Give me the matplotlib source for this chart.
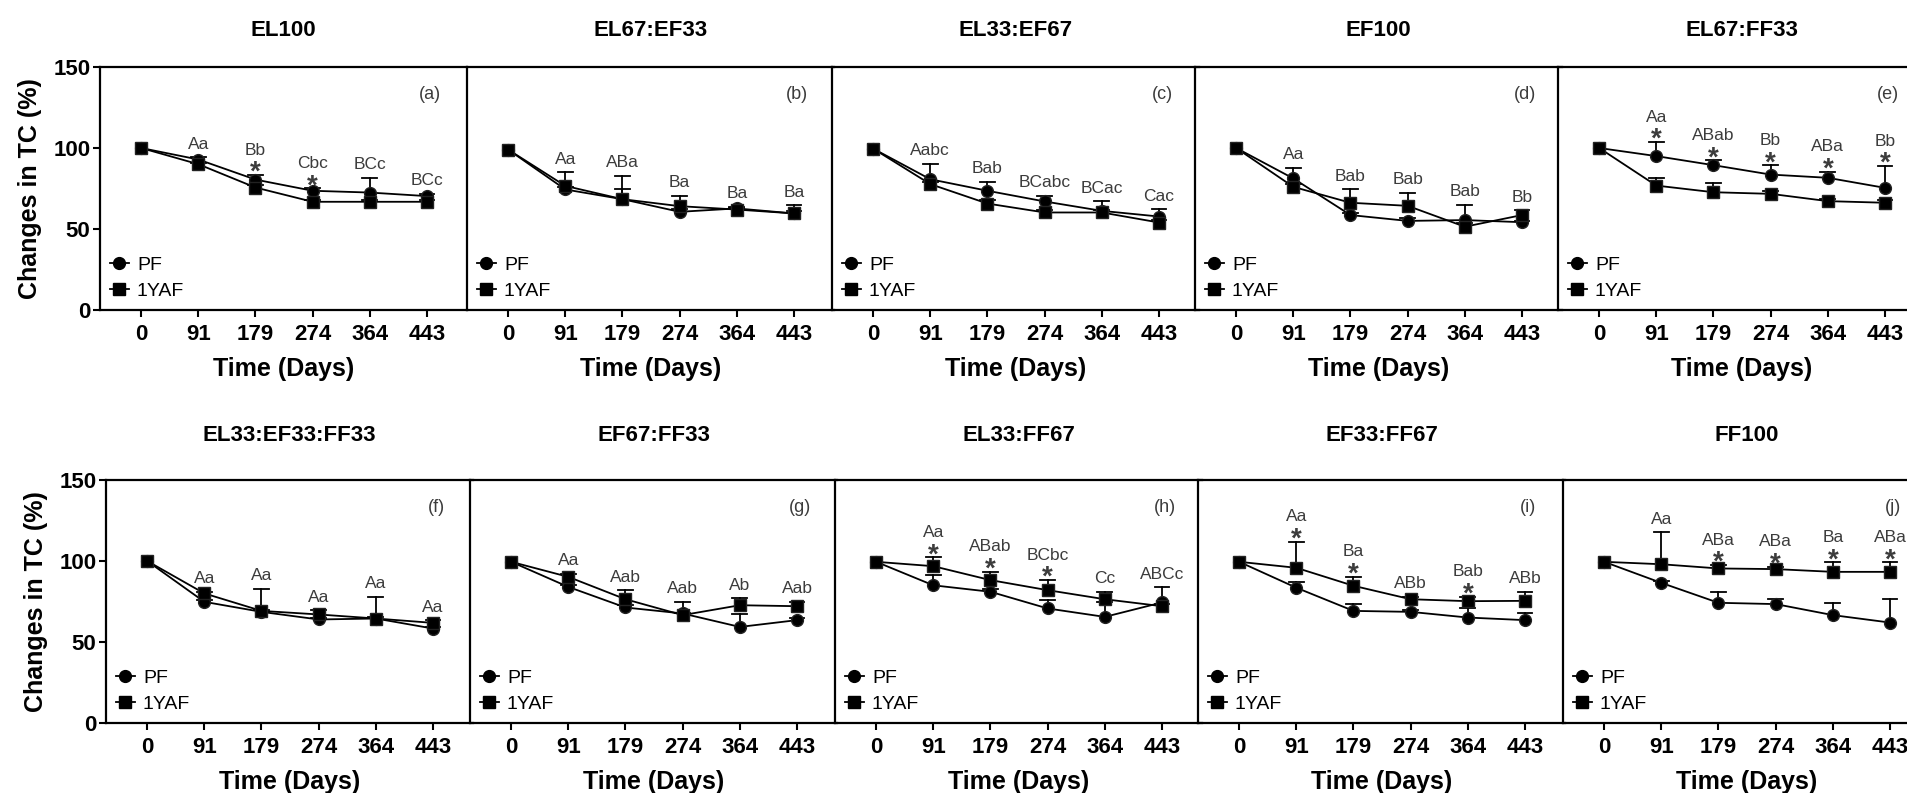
import matplotlib.pyplot as plt
from matplotlib.lines import Line2D

plt.rcParams['font.family'] = ['Liberation Sans', 'DejaVu Sans']

days = ['0', '91', '179', '274', '364', '443']
titles = ['EL100', 'EL67:EF33', 'EL33:EF67', 'EF100', 'EL67:FF33',
          'EL33:EF33:FF33', 'EF67:FF33', 'EL33:FF67', 'EF33:FF67', 'FF100']
tags = ['(a)', '(b)', '(c)', '(d)', '(e)', '(f)', '(g)', '(h)', '(i)', '(j)']

# PF (circles)
pf_mean = [
    [100, 92.9, 80.5, 73.6, 72.5, 70.3],
    [99, 74.4, 68.4, 60.6, 62.7, 59.6],
    [99.6, 80.7, 73.6, 67.0, 61.2, 57.7],
    [100, 81.2, 58.6, 55.0, 55.5, 54.2],
    [100, 95.0, 89.4, 83.6, 81.6, 75.4],
    [100, 74.8, 68.6, 63.9, 64.5, 58.3],
    [99.5, 84.0, 71.3, 67.6, 59.3, 63.5],
    [99.5, 85.0, 81.0, 70.7, 65.5, 74.4],
    [99.5, 83.5, 69.2, 68.6, 65.1, 63.5],
    [99.5, 86.5, 74.2, 73.4, 66.6, 62.0],
]
pf_err = [
    [0, 1.5, 2.7, 1.5, 9.1, 1.5],
    [0, 1.5, 6.2, 1.5, 1.0, 1.5],
    [0, 9.7, 5.5, 3.5, 5.8, 4.6],
    [0, 6.7, 1.5, 1.5, 9.6, 1.0],
    [0, 8.6, 3.0, 5.6, 3.7, 13.4],
    [0, 1.0, 1.0, 1.0, 1.0, 1.0],
    [0, 1.0, 1.5, 7.2, 7.7, 1.5],
    [0, 6.3, 1.5, 5.1, 9.0, 9.3],
    [0, 3.5, 4.2, 1.0, 5.6, 4.5],
    [0, 1.0, 6.4, 3.0, 7.6, 14.4],
]

# 1YAF (squares)
yaf_mean = [
    [100, 90.0, 75.6, 66.8, 66.8, 66.8],
    [99, 76.6, 68.4, 64.1, 62.0, 59.6],
    [99.6, 77.7, 65.7, 60.2, 60.2, 54.0],
    [100, 76.0, 66.2, 64.3, 51.4, 58.6],
    [100, 76.8, 72.7, 71.7, 67.2, 66.2],
    [100, 80.0, 69.2, 67.0, 64.5, 61.8],
    [99.5, 90.2, 76.4, 66.6, 72.7, 72.1],
    [99.5, 96.8, 88.2, 82.0, 76.4, 72.1],
    [99.5, 95.8, 84.7, 76.4, 75.2, 75.4],
    [99.5, 98.0, 95.4, 95.0, 93.3, 93.3],
]
yaf_err = [
    [0, 1.0, 1.5, 1.0, 1.0, 1.0],
    [0, 8.3, 14.4, 6.4, 1.0, 5.1],
    [0, 1.5, 2.0, 1.5, 1.5, 1.5],
    [0, 1.5, 8.2, 8.2, 2.0, 3.0],
    [0, 4.8, 5.8, 1.5, 1.5, 1.5],
    [0, 1.0, 13.6, 2.5, 13.4, 1.7],
    [0, 2.0, 5.6, 1.5, 4.2, 2.7],
    [0, 5.4, 5.1, 6.2, 4.6, 1.5],
    [0, 16.1, 5.5, 1.5, 2.7, 5.6],
    [0, 19.7, 2.0, 1.5, 5.8, 5.8],
]

# significance letters for days 91..443, and '*' marks
letters = [
    ['Aa', 'Bb', 'Cbc', 'BCc', 'BCc'],
    ['Aa', 'ABa', 'Ba', 'Ba', 'Ba'],
    ['Aabc', 'Bab', 'BCabc', 'BCac', 'Cac'],
    ['Aa', 'Bab', 'Bab', 'Bab', 'Bb'],
    ['Aa', 'ABab', 'Bb', 'ABa', 'Bb'],
    ['Aa', 'Aa', 'Aa', 'Aa', 'Aa'],
    ['Aa', 'Aab', 'Aab', 'Ab', 'Aab'],
    ['Aa', 'ABab', 'BCbc', 'Cc', 'ABCc'],
    ['Aa', 'Ba', 'ABb', 'Bab', 'ABb'],
    ['Aa', 'ABa', 'ABa', 'Ba', 'ABa'],
]
stars = [
    [0, 1, 1, 0, 0],
    [0, 0, 0, 0, 0],
    [0, 0, 0, 0, 0],
    [0, 0, 0, 0, 0],
    [1, 1, 1, 1, 1],
    [0, 0, 0, 0, 0],
    [0, 0, 0, 0, 0],
    [1, 1, 1, 0, 0],
    [1, 1, 0, 1, 0],
    [0, 1, 1, 1, 1],
]

W, H = 1908, 793
fig = plt.figure(figsize=(W / 100, H / 100), dpi=100)

row_lefts = [[100, 467, 832, 1195, 1558], [106, 470, 835, 1198, 1563]]
row_tops = [67, 480]
ax_w, ax_h = 367, 243
title_off = [0.15, 0.185]
gray = '#3c3c3c'
cap_half = 0.13


def draw_errs(ax, x, mean, err):
    for xi, m, e in zip(x, mean, err):
        if e <= 0:
            continue
        ax.plot([xi, xi], [m, m + e], color='black', lw=1.3, zorder=2)
        ax.plot([xi - cap_half, xi + cap_half], [m + e, m + e], color='black', lw=1.3, zorder=2)


for i in range(10):
    row, col = divmod(i, 5)
    left = row_lefts[row][col]
    top = row_tops[row]
    ax = fig.add_axes([left / W, (H - top - ax_h) / H, ax_w / W, ax_h / H])
    ax.set_facecolor('none')
    x = list(range(len(days)))

    draw_errs(ax, x, pf_mean[i], pf_err[i])
    draw_errs(ax, x, yaf_mean[i], yaf_err[i])
    ax.plot(x, pf_mean[i], color='black', lw=1.3, marker='o', markersize=8.5,
            markeredgecolor='#222222', zorder=3)
    ax.plot(x, yaf_mean[i], color='black', lw=1.3, marker='s', markersize=8.5,
            markeredgecolor='#222222', zorder=3)

    for j in range(1, len(days)):
        top_val = max(pf_mean[i][j] + pf_err[i][j], yaf_mean[i][j] + yaf_err[i][j])
        if stars[i][j - 1]:
            ax.text(j, top_val - 3.0, '*', ha='center', va='baseline', fontsize=20,
                    fontweight='bold', color=gray)
            ax.text(j, top_val + 15.5, letters[i][j - 1], ha='center', va='center',
                    fontsize=12.5, color=gray)
        else:
            ax.text(j, top_val + 8, letters[i][j - 1], ha='center', va='center',
                    fontsize=12.5, color=gray)

    ax.text(0.9, 0.885, tags[i], transform=ax.transAxes, ha='center', va='center',
            fontsize=13, color=gray)
    ax.text(0.5, 1 + title_off[row], titles[i], transform=ax.transAxes, ha='center',
            va='center', fontsize=16, fontweight='bold')

    ax.set_xlim(-0.72, 5.7)
    ax.set_ylim(0, 150)
    ax.set_xticks(x)
    ax.set_xticklabels(days, fontsize=16, fontweight='bold')
    ax.set_xlabel('Time (Days)', fontsize=18, fontweight='bold', labelpad=9)
    for sp in ax.spines.values():
        sp.set_linewidth(1.6)
    if col < 4:
        ax.spines['right'].set_visible(False)
    ax.tick_params(axis='x', length=5, width=1.5, pad=5)
    if col == 0:
        ax.set_yticks([0, 50, 100, 150])
        ax.set_yticklabels(['0', '50', '100', '150'], fontsize=16, fontweight='bold')
        ax.tick_params(axis='y', length=5, width=1.5, pad=2)
        ax.set_ylabel('Changes in TC (%)', fontsize=18, fontweight='bold')
        ax.yaxis.set_label_coords(-58 / ax_w, 0.5)
    else:
        ax.tick_params(axis='y', left=False, labelleft=False)

    handles = [Line2D([], [], color='black', lw=1.3, marker='o', markersize=8.5),
               Line2D([], [], color='black', lw=1.3, marker='s', markersize=8.5)]
    ax.legend(handles, ['PF', '1YAF'], loc='lower left', frameon=False, fontsize=14,
              handlelength=1.0, handletextpad=0.4, labelspacing=0.45,
              borderaxespad=0.2, borderpad=0.3)

fig.savefig('out.png', dpi=100)
